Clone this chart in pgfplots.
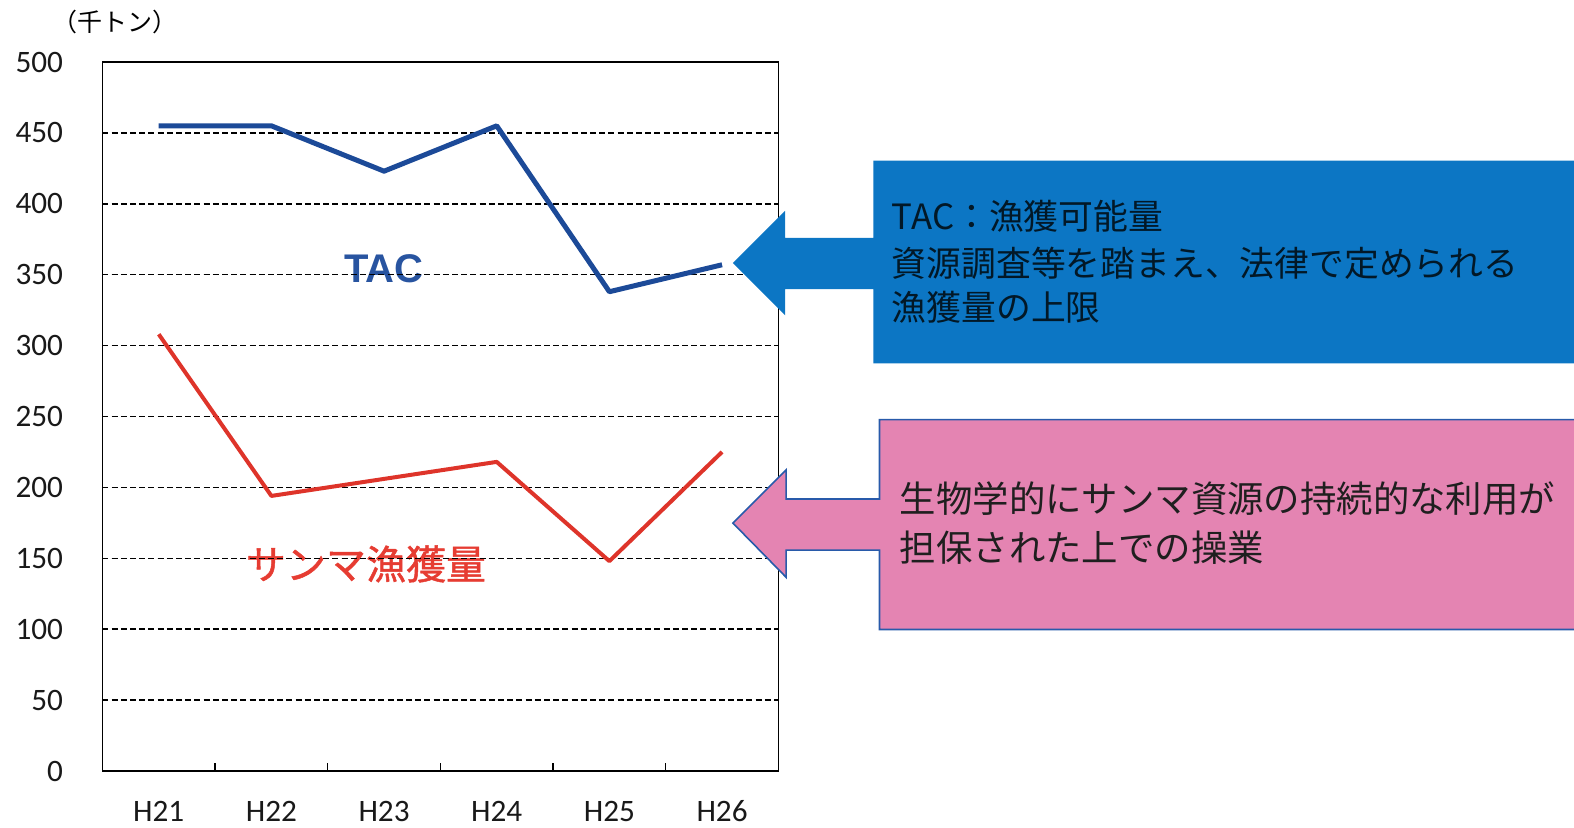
\documentclass[border=0pt]{standalone}
\usepackage{pgfplots}
\pgfplotsset{compat=1.18}
\usepackage{fontspec}
\setmainfont{Carlito}
\newfontfamily\jp{Noto Sans CJK JP}
\newfontfamily\jpb[FakeBold=1.2]{Noto Sans CJK JP}
\newfontfamily\arialb{Liberation Sans}
\definecolor{tacline}{RGB}{28,74,152}
\definecolor{tactext}{RGB}{40,84,160}
\definecolor{catchline}{RGB}{222,52,42}
\definecolor{catchtext}{RGB}{230,60,50}
\definecolor{bluebox}{RGB}{12,118,196}
\definecolor{pinkbox}{RGB}{228,132,178}
\definecolor{pinkedge}{RGB}{40,90,170}
\tikzset{mygrid/.style={black, line width=0.75pt, dash pattern=on 3pt off 1.6pt}}
\begin{document}
\begin{tikzpicture}
\useasboundingbox (0,0) rectangle (787pt,413.5pt);
\begin{axis}[
  at={(51.2pt,28pt)}, anchor=south west,
  scale only axis, width=338pt, height=354.5pt,
  xmin=-0.5, xmax=5.5, ymin=0, ymax=500,
  xtick={0,1,2,3,4,5},
  xticklabels={H21,H22,H23,H24,H25,H26},
  minor xtick={0.5,1.5,2.5,3.5,4.5},
  xtick pos=bottom, ytick pos=left,
  tick align=inside,
  major tick length=0pt, minor tick length=4pt,
  minor tick style={black, line width=0.7pt},
  ytick={0,50,...,500},
  ymajorgrids,
  grid style={mygrid},
  axis line style={black, line width=0.8pt},
  /pgf/number format/assume math mode=true,
  ticklabel style={font=\fontsize{15.6}{18}\selectfont, text=black!90},
  yticklabel style={anchor=east, inner sep=0pt, xshift=-19.5pt},
  xticklabel style={anchor=center, inner sep=0pt, yshift=-20pt},
  clip=false,
]
\node[text=tactext, font=\arialb\bfseries\fontsize{20}{24}\selectfont] at (axis cs:2,354) {TAC};
\node[text=catchtext, font=\jpb\fontsize{20}{24}\selectfont] at (axis cs:1.84,146) {サンマ漁獲量};
\draw[mygrid] (axis cs:-0.5,350) -- (axis cs:5.5,350);
\draw[mygrid] (axis cs:-0.5,150) -- (axis cs:5.5,150);
\addplot[tacline, line width=2.5pt, line join=round] coordinates {
  (0,455) (1,455) (2,423) (3,455) (4,338) (5,357)
};
\addplot[catchline, line width=2pt, line join=round] coordinates {
  (0,308) (1,194) (2,206) (3,218) (4,148) (5,225)
};
\end{axis}
\begin{scope}[x=0.502pt, y=-0.502pt, yshift=413.5pt]
  \node[font=\jp\fontsize{12.5}{14}\selectfont, text=black] at (115,22) {（千トン）};
  % blue callout
  \fill[bluebox] (1574,160) -- (870,160) -- (870,237) -- (782,237) -- (782,210)
     -- (730,262) -- (782,314) -- (782,288) -- (870,288) -- (870,362) -- (1574,362) -- cycle;
  \begin{scope}[every node/.style={anchor=west, inner sep=0pt, text=black!80!bluebox, font=\jp\fontsize{17.4}{20}\selectfont}]
    \node at (888,215) {TAC：漁獲可能量};
    \node at (888,262) {資源調査等を踏まえ、法律で定められる};
    \node at (888,306) {漁獲量の上限};
  \end{scope}
  % pink callout
  \filldraw[fill=pinkbox, draw=pinkedge, line width=0.8pt] (1578,418) -- (876,418) -- (876,497) -- (783,497) -- (783,468)
     -- (730,521) -- (783,575) -- (783,548) -- (876,548) -- (876,627) -- (1578,627);
  \begin{scope}[every node/.style={anchor=west, inner sep=0pt, text=black!88, font=\jp\fontsize{18.2}{21}\selectfont}]
    \node at (896,497) {生物学的にサンマ資源の持続的な利用が};
    \node at (896,545) {担保された上での操業};
  \end{scope}
\end{scope}
\end{tikzpicture}
\end{document}
